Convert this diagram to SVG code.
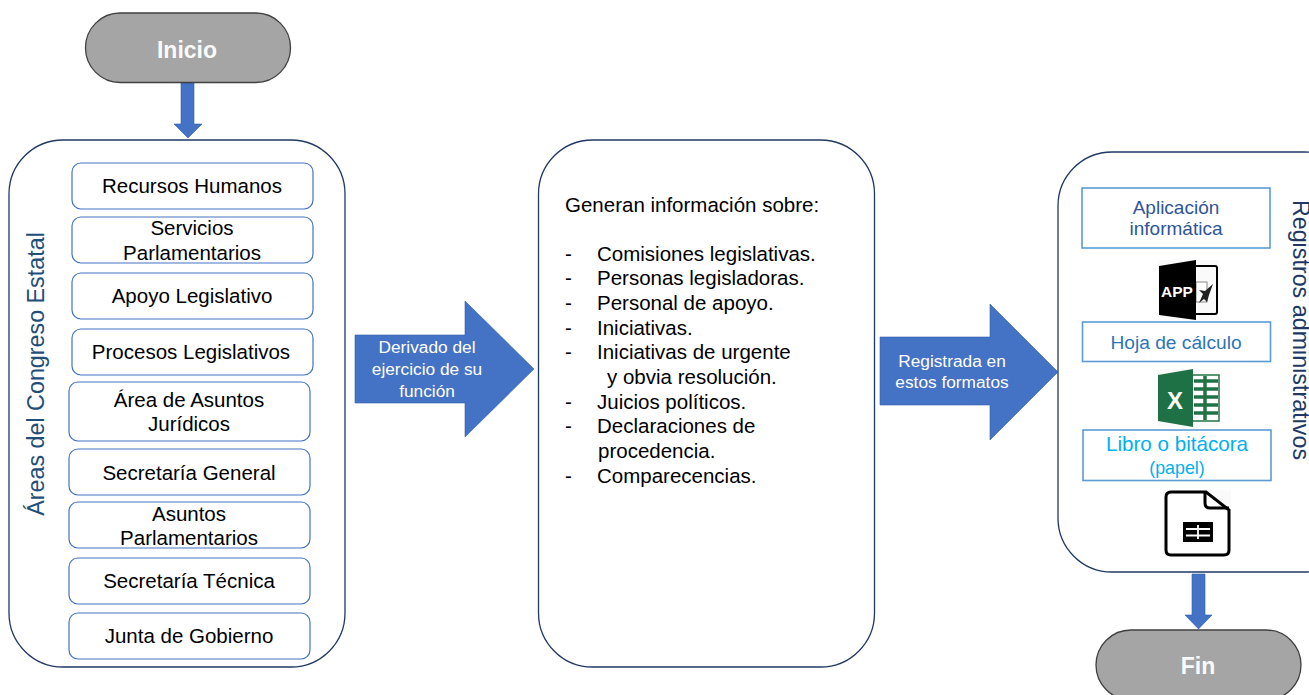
<svg xmlns="http://www.w3.org/2000/svg" width="1309" height="695" viewBox="0 0 1309 695">
<style>
text{font-family:"Liberation Sans",Arial,sans-serif}
.big{fill:#fff;stroke:#203864;stroke-width:1.3}
.term{fill:#a5a5a5;stroke:#404040;stroke-width:1.3}
.tt{fill:#fafafa;font-size:23px;font-weight:bold;text-anchor:middle}
.area{fill:#fff;stroke:#4472c4;stroke-width:1.2}
.at{fill:#000;font-size:20.500px;text-anchor:middle}
.side{font-size:23.300px;text-anchor:middle}
.arrow{fill:#4472c4;stroke:#2f5fb0;stroke-width:.6}
.al{fill:#fff;font-size:17.300px;text-anchor:middle}
.gl{fill:#000;font-size:20.500px}
.fmt{fill:#fff;stroke:#5b9bd5;stroke-width:1.6}
</style>
<g id="connectors">
<path class="arrow" d="M181 83H194V124H202L188 138L174 124H181Z"/>
<path class="arrow" d="M1192 574H1205V615H1212L1198.500 629L1185 615H1192Z"/>
<path class="arrow" d="M355 335H465V301L534 369L465 437V403H355Z"/>
<text class="al" x="427" y="353">Derivado del</text>
<text class="al" x="427" y="375">ejercicio de su</text>
<text class="al" x="427" y="397">función</text>
<path class="arrow" d="M880 337H990V304L1058 372L990 440V405H880Z"/>
<text class="al" x="952" y="367">Registrada en</text>
<text class="al" x="952" y="388">estos formatos</text>
</g>
<g id="inicio"><rect class="term" x="85.500" y="13" width="205" height="69.500" rx="34.700"/><text class="tt" x="187" y="57.500">Inicio</text></g>
<g id="areas">
<rect class="big" x="9" y="140" width="336" height="527" rx="54"/>
<text class="side" fill="#1f4e79" transform="translate(44 374) rotate(-90)">Áreas del Congreso Estatal</text>
</g>
<g id="a1"><rect class="area" x="72" y="163" width="241" height="46" rx="9"/><text class="at" x="192" y="193">Recursos Humanos</text></g>
<g id="a2"><rect class="area" x="72" y="217" width="241" height="46" rx="9"/><text class="at" x="192" y="235">Servicios</text><text class="at" x="192" y="260">Parlamentarios</text></g>
<g id="a3"><rect class="area" x="72" y="273" width="241" height="46" rx="9"/><text class="at" x="192" y="303">Apoyo Legislativo</text></g>
<g id="a4"><rect class="area" x="72" y="329" width="241" height="46" rx="9"/><text class="at" x="191" y="359">Procesos Legislativos</text></g>
<g id="a5"><rect class="area" x="69" y="382" width="241" height="59" rx="9"/><text class="at" x="189" y="407">Área de Asuntos</text><text class="at" x="189" y="431">Jurídicos</text></g>
<g id="a6"><rect class="area" x="69" y="449" width="241" height="46" rx="9"/><text class="at" x="189" y="480">Secretaría General</text></g>
<g id="a7"><rect class="area" x="69" y="502" width="241" height="46" rx="9"/><text class="at" x="189" y="521">Asuntos</text><text class="at" x="189" y="545">Parlamentarios</text></g>
<g id="a8"><rect class="area" x="69" y="558" width="241" height="46" rx="9"/><text class="at" x="189" y="588">Secretaría Técnica</text></g>
<g id="a9"><rect class="area" x="69" y="613" width="241" height="46" rx="9"/><text class="at" x="189" y="643">Junta de Gobierno</text></g>
<g id="info">
<rect class="big" x="538.500" y="140" width="336" height="527" rx="54"/>
<text class="gl" x="565" y="212">Generan información sobre:</text>
<text class="gl" x="565" y="261">-</text><text class="gl" x="597" y="261">Comisiones legislativas.</text>
<text class="gl" x="565" y="285">-</text><text class="gl" x="597" y="285">Personas legisladoras.</text>
<text class="gl" x="565" y="310">-</text><text class="gl" x="597" y="310">Personal de apoyo.</text>
<text class="gl" x="565" y="335">-</text><text class="gl" x="597" y="335">Iniciativas.</text>
<text class="gl" x="565" y="359">-</text><text class="gl" x="597" y="359">Iniciativas de urgente</text>
<text class="gl" x="607" y="384">y obvia resolución.</text>
<text class="gl" x="565" y="409">-</text><text class="gl" x="597" y="409">Juicios políticos.</text>
<text class="gl" x="565" y="433">-</text><text class="gl" x="597" y="433">Declaraciones de</text>
<text class="gl" x="598" y="458">procedencia.</text>
<text class="gl" x="565" y="483">-</text><text class="gl" x="597" y="483">Comparecencias.</text>
</g>
<g id="registros">
<rect class="big" x="1058" y="152" width="300" height="420" rx="54"/>
<text class="side" fill="#203864" transform="translate(1292.500 330) rotate(90)">Registros administrativos</text>
</g>
<g id="f1"><rect class="fmt" x="1082" y="188" width="188" height="60"/><text x="1176" y="214" text-anchor="middle" font-size="19" fill="#2f5597">Aplicación</text><text x="1176" y="235" text-anchor="middle" font-size="19" fill="#2f5597">informática</text></g>
<g id="icon-app">
<rect x="1158" y="260" width="61" height="60" fill="#fafafa"/>
<path d="M1188 266H1215Q1217 266 1217 268V312Q1217 314 1215 314H1188" fill="none" stroke="#000" stroke-width="2"/>
<rect x="1196" y="282" width="11" height="20" fill="#fff" stroke="#888" stroke-width="1"/>
<path d="M1199 303L1203 294L1199 290L1205 291L1213 284L1209 295L1207 302L1204 299Z" fill="#222"/>
<path d="M1159 266L1196 260V320L1159 315Z" fill="#000"/>
<text x="1177" y="297" text-anchor="middle" font-size="15.500" font-weight="bold" fill="#fff">APP</text>
</g>
<g id="f2"><rect class="fmt" x="1082.500" y="322" width="188" height="39.500"/><text x="1176" y="349" text-anchor="middle" font-size="19.200" fill="#2e75b6">Hoja de cálculo</text></g>
<g id="icon-excel">
<rect x="1158" y="369" width="61" height="58" fill="#fafafa"/>
<rect x="1192" y="375" width="27" height="46" fill="#fff" stroke="#217346" stroke-width="1.500"/>
<path d="M1194 381H1218M1194 389H1218M1194 397H1218M1194 405H1218M1194 413H1218M1205 376V420" stroke="#217346" stroke-width="3.500" fill="none"/>
<path d="M1158 375L1193 369V427L1158 421Z" fill="#1e7145"/>
<text x="1175" y="409" text-anchor="middle" font-size="24" font-weight="bold" fill="#fff">X</text>
</g>
<g id="f3"><rect class="fmt" x="1083" y="430" width="188" height="50.500"/><text x="1177" y="451" text-anchor="middle" font-size="20.600" fill="#00b0f0">Libro o bitácora</text><text x="1177" y="474" text-anchor="middle" font-size="17.800" fill="#00b0f0">(papel)</text></g>
<g id="icon-sheet">
<rect x="1163" y="490" width="68" height="66" fill="#fafafa"/>
<path d="M1171 492H1206L1229 510V550Q1229 555 1224 555H1171Q1166 555 1166 550V497Q1166 492 1171 492Z" fill="#fff" stroke="#000" stroke-width="3"/>
<path d="M1205 492V503Q1205 508 1210 508H1229" fill="none" stroke="#000" stroke-width="3"/>
<rect x="1183" y="522" width="30" height="20" fill="#000"/>
<path d="M1186 529H1210M1186 535.500H1210" stroke="#fff" stroke-width="1.800"/><path d="M1198 525V539" stroke="#fff" stroke-width="1.800"/>
</g>
<g id="fin"><rect class="term" x="1096" y="630" width="205" height="70" rx="35"/><text class="tt" x="1198" y="673.500">Fin</text></g>
</svg>
